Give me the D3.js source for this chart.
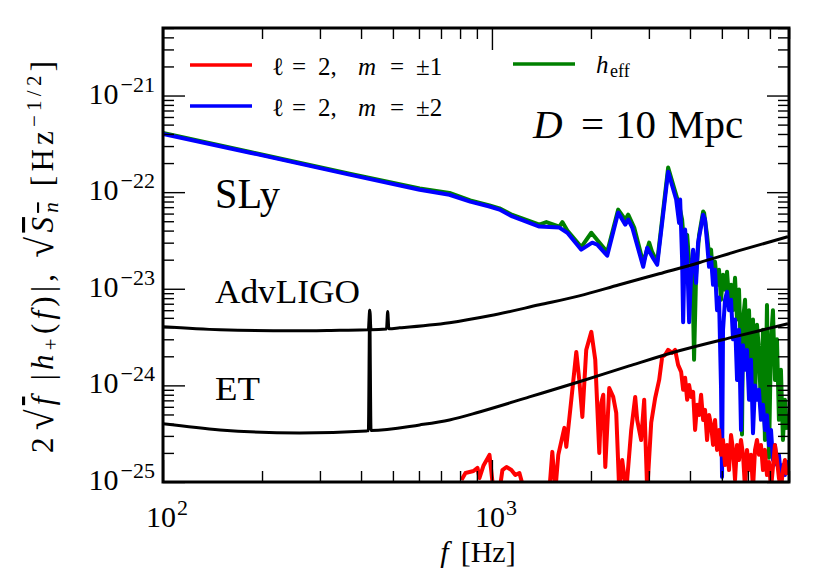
<!DOCTYPE html>
<html>
<head>
<meta charset="utf-8">
<script src="https://cdn.jsdelivr.net/npm/d3@7"></script>
<style>
  body { margin: 0; background: #fff; }
  text { font-family: "Liberation Serif", "DejaVu Serif", serif; fill: #000; }
</style>
</head>
<body>
<div id="chart"></div>
<script>
// h_eff (green) as [f in Hz, amplitude]
const heffData = [
  [100,4.1e-22],[184,2.6e-22],[369,1.55e-22],[603,1.09e-22],[743,9.8e-23],[859,8.2e-23],[983,7.3e-23],
  [1054,6.8e-23],[1154,5.8e-23],[1394,4.6e-23],[1464,4.9e-23],[1603,4.4e-23],[1637,4.9e-23],[1695,4.0e-23],
  [1869,2.7e-23],[2005,3.8e-23],[2090,3.2e-23],[2241,2.4e-23],[2420,6.6e-23],[2543,5.2e-23],[2596,5.85e-23],
  [2707,4.3e-23],[2883,1.86e-23],[3006,3.0e-23],[3070,2.4e-23],[3180,1.9e-23],[3433,1.8e-22],[3580,1.1e-22],
  [3707,7.4e-23],[3786,5.2e-23],[3840,2.86e-23],[3922,3.6e-23],[3976,1.9e-23],[4060,2.0e-23],[4116,1.84e-24],
  [4175,1.4e-23],[4263,3.6e-23],[4385,6.3e-23],[4415,6.1e-23],[4508,3.6e-23],[4571,2.25e-23],[4636,2.54e-23],
  [4701,1.4e-23],[4767,1.9e-23],[4834,1.1e-23],[4902,1.57e-23],[4971,7.7e-24],[5041,1.4e-23],[5113,9.8e-24],
  [5184,1.5e-23],[5257,7.7e-24],[5332,1.1e-23],[5407,6.0e-24],[5483,1.3e-23],[5561,4.8e-24],[5638,9.8e-24],
  [5717,1.84e-24],[5757,3.1e-25],[5800,4.8e-24],[5881,7.7e-24],[5962,1.45e-24],[6047,6.0e-24],[6132,1.14e-24],
  [6218,4.8e-24],[6306,7.1e-25],[6394,4.24e-24],[6482,2.33e-24],[6575,5.6e-25],[6668,3.76e-24],[6761,2.72e-25],
  [6857,6.8e-24],[6954,1.78e-25],[7053,3.0e-24],[7150,6.0e-24],[7251,1.14e-24],[7354,3.0e-24],[7456,4.4e-25],
  [7561,1.45e-24],[7668,2.72e-25],[7775,7.1e-25],[7884,3.46e-25]
];

// l=2, m=+-2 (blue)
const m2Data = [
  [100,4.0e-22],[184,2.56e-22],[369,1.52e-22],[603,1.06e-22],[743,9.4e-23],[859,7.97e-23],[983,7.1e-23],
  [1054,6.6e-23],[1154,5.6e-23],[1394,4.4e-23],[1603,4.3e-23],[1695,3.8e-23],[1869,2.54e-23],[2018,3.0e-23],
  [2090,2.86e-23],[2241,2.2e-23],[2420,6.14e-23],[2543,4.61e-23],[2596,5.2e-23],[2670,4.3e-23],[2883,1.69e-23],
  [2965,2.66e-23],[3070,2.15e-23],[3180,1.77e-23],[3433,1.63e-22],[3580,9.9e-23],[3631,8.4e-23],[3707,4.8e-23],
  [3734,8.4e-23],[3786,2.0e-23],[3813,4.5e-24],[3866,4.1e-23],[3922,2.15e-23],[3976,4.5e-24],[4033,1.47e-23],
  [4089,2.54e-23],[4175,1.15e-23],[4233,3.0e-23],[4323,4.4e-23],[4385,5.85e-23],[4445,5.2e-23],[4508,3.0e-23],
  [4571,1.69e-23],[4636,2.1e-23],[4701,1.1e-23],[4767,1.57e-23],[4834,6.0e-24],[4902,8.1e-24],[4971,9.6e-25],
  [5006,1.13e-25],[5041,3.76e-24],[5113,7.7e-24],[5184,9.3e-24],[5257,6.0e-24],[5332,7.7e-24],[5407,3.0e-24],
  [5483,4.8e-24],[5561,1.14e-24],[5638,3.76e-24],[5717,3.46e-25],[5800,2.6e-24],[5881,1.45e-24],[5962,2.33e-24],
  [6047,7.1e-25],[6132,1.84e-24],[6218,3.2e-25],[6306,1.0e-24],[6394,7.1e-25],[6482,9.0e-25],[6575,4.4e-25],
  [6668,6.3e-25],[6761,3.46e-25],[6857,4.9e-25],[6954,2.4e-25],[7053,3.46e-25],[7150,1.69e-25],[7251,2.4e-25],
  [7354,1.5e-25],[7456,1.91e-25],[7561,1.1e-25],[7668,1.5e-25],[7775,1.18e-25],[7884,1.69e-25]
];

// l=2, m=+-1 (red); values under 1e-25 fall below the frame
const m1Data = [
  [808,1.05e-25],[831,1.24e-25],[879,1.3e-25],[904,1.4e-25],[916,1.1e-25],[942,1.47e-25],[983,1.91e-25],
  [1011,8e-26],[1054,8e-26],[1076,1.33e-25],[1107,1.43e-25],[1146,1.33e-25],[1178,1.18e-25],[1212,1.24e-25],
  [1255,8e-26],[1494,8e-26],[1526,2.05e-25],[1558,8e-26],[1591,1.91e-25],[1660,3.63e-25],[1683,2.31e-25],
  [1743,7.1e-25],[1805,2.22e-24],[1843,1.14e-24],[1883,4.72e-25],[1935,2.33e-24],[2005,3.58e-24],[2061,1.84e-24],
  [2120,2.0e-25],[2150,6.6e-25],[2180,8.0e-25],[2211,1.43e-25],[2273,9.4e-25],[2337,7.6e-25],[2387,5.2e-25],
  [2438,8e-26],[2489,1.69e-25],[2560,8e-26],[2651,3.46e-25],[2726,7.6e-25],[2764,4.4e-25],[2842,2.72e-25],
  [2903,7.1e-25],[2965,8e-26],[3049,4.1e-25],[3135,7.4e-25],[3224,1.14e-24],[3292,1.97e-24],[3363,2.07e-24],
  [3433,2.33e-24],[3530,2.17e-24],[3605,2.33e-24],[3681,1.63e-24],[3760,1.38e-24],[3813,9.0e-25],[3866,1.2e-24],
  [3922,7.1e-25],[3976,1.01e-24],[4033,7.6e-25],[4089,8.57e-25],[4146,3.46e-25],[4205,6.3e-25],[4263,4.94e-25],
  [4323,8.0e-25],[4385,4.39e-25],[4445,5.58e-25],[4508,2.72e-25],[4571,4.94e-25],[4636,3.9e-25],[4701,2.42e-25],
  [4767,4.39e-25],[4834,2.15e-25],[4902,3.46e-25],[4971,1.91e-25],[5041,2.72e-25],[5113,1.5e-25],[5184,2.42e-25],
  [5257,1.33e-25],[5332,3.07e-25],[5407,2.15e-25],[5483,1.05e-25],[5561,2.42e-25],[5638,1.69e-25],[5717,2.72e-25],
  [5800,1.91e-25],[5881,8.5e-26],[5962,2.15e-25],[6047,1.33e-25],[6132,1.91e-25],[6218,8.5e-26],[6306,2.15e-25],
  [6394,2.72e-25],[6482,1.91e-25],[6575,2.42e-25],[6668,1.33e-25],[6761,2.15e-25],[6857,1.18e-25],[6954,1.61e-25],
  [7053,8.5e-26],[7251,2.42e-25],[7354,1.69e-25],[7456,1.1e-25],[7561,8.5e-26],[7668,1.33e-25],[7775,1.69e-25],
  [7884,1.18e-25]
];

// detector noise curves sqrt(S_n)
const advLigoData = [
  [100,4.04e-24],[149,3.76e-24],[248,3.67e-24],[344,3.72e-24],[421,3.76e-24],[425,6.0e-24],[429,3.77e-24],
  [478,3.84e-24],[482,5.8e-24],[486,3.86e-24],[524,3.94e-24],[743,4.45e-24],[983,5.25e-24],[1394,6.82e-24],
  [1843,8.45e-24],[2438,1.1e-23],[3224,1.43e-23],[4263,1.86e-23],[5638,2.48e-23],[7940,3.46e-23]
];
const etData = [
  [100,4.0e-25],[149,3.46e-25],[260,3.22e-25],[416,3.38e-25],[421,3.39e-25],[425,6.0e-24],[429,3.41e-25],
  [603,3.9e-25],[743,4.39e-25],[916,5.31e-25],[1300,7.6e-25],[1843,1.09e-24],[2615,1.59e-24],[3707,2.28e-24],
  [5445,3.18e-24],[7940,4.34e-24]
];

const xMajorTicks = [100, 1000];
const xTickExps = ["2", "3"];
const yMajorTicks = [1e-25, 1e-24, 1e-23, 1e-22, 1e-21];
const yTickExps = ["\u221225", "\u221224", "\u221223", "\u221222", "\u221221"];

var margin = {top: 28, right: 41, bottom: 99, left: 163},
    width = 830 - margin.left - margin.right,
    height = 581 - margin.top - margin.bottom;

var svg = d3.select("#chart")
    .append("svg")
    .attr("width", width + margin.left + margin.right)
    .attr("height", height + margin.top + margin.bottom)
    .append("g")
    .attr("transform", "translate(" + margin.left + "," + margin.top + ")");

var x = d3.scaleLog().domain([100, 8000]).range([0, width]);
var y = d3.scaleLog().domain([1e-25, 5e-21]).range([height, 0]);

svg.append("clipPath").attr("id", "plotclip")
    .append("rect").attr("width", width).attr("height", height);

var line = d3.line()
    .x(function(d) { return x(d[0]); })
    .y(function(d) { return y(d[1]); });
var smoothLine = d3.line()
    .curve(d3.curveMonotoneX)
    .x(function(d) { return x(d[0]); })
    .y(function(d) { return y(d[1]); });

var curves = svg.append("g").attr("clip-path", "url(#plotclip)");

function drawCurve(data, color, w, gen) {
    curves.append("path")
        .datum(data)
        .attr("fill", "none")
        .attr("stroke", color)
        .attr("stroke-width", w)
        .attr("stroke-linejoin", "round")
        .attr("d", gen);
}
drawCurve(heffData, "#008000", 4, line);
drawCurve(m2Data, "#0000ff", 4, line);
drawCurve(m1Data, "#ff0000", 4, line);
drawCurve(advLigoData, "#000", 3, smoothLine);
drawCurve(etData, "#000", 3, smoothLine);

// ticks on all four sides, pointing inward
var isMajor = function(v) { return Math.abs(Math.log10(v) - Math.round(Math.log10(v))) < 1e-9; };
var xMinor = x.ticks().filter(function(v) { return !isMajor(v); });
var yMinor = y.ticks().filter(function(v) { return !isMajor(v); });

function ticks(axis, vals, size, tr) {
    svg.append("g")
        .attr("transform", tr)
        .call(axis.tickValues(vals).tickSize(size).tickFormat(""))
        .call(function(g) { g.select(".domain").remove(); })
        .call(function(g) { g.selectAll(".tick line").attr("stroke", "#000").attr("stroke-width", 1.4); });
}
ticks(d3.axisBottom(x), xMajorTicks, -22, "translate(0," + height + ")");
ticks(d3.axisBottom(x), xMinor, -11, "translate(0," + height + ")");
ticks(d3.axisTop(x), xMajorTicks, -22, "translate(0,0)");
ticks(d3.axisTop(x), xMinor, -11, "translate(0,0)");
ticks(d3.axisLeft(y), yMajorTicks, -22, "translate(0,0)");
ticks(d3.axisLeft(y), yMinor, -11, "translate(0,0)");
ticks(d3.axisRight(y), yMajorTicks, -22, "translate(" + width + ",0)");
ticks(d3.axisRight(y), yMinor, -11, "translate(" + width + ",0)");

svg.append("rect")
    .attr("width", width).attr("height", height)
    .attr("fill", "none").attr("stroke", "#000").attr("stroke-width", 3);

// tick labels
yMajorTicks.forEach(function(v, i) {
    var t = svg.append("text")
        .attr("x", -8).attr("y", y(v) + 8)
        .attr("text-anchor", "end")
        .style("font-size", "30px");
    t.append("tspan").text("10");
    t.append("tspan").attr("dx", 2).attr("dy", -12).style("font-size", "22px").text(yTickExps[i]);
});
xMajorTicks.forEach(function(v, i) {
    var t = svg.append("text")
        .attr("x", x(v) + 4).attr("y", height + 45)
        .attr("text-anchor", "middle")
        .style("font-size", "30px");
    t.append("tspan").text("10");
    t.append("tspan").attr("dx", 1).attr("dy", -12).style("font-size", "22px").text(xTickExps[i]);
});

// axis labels
var xl = svg.append("text")
    .attr("x", width / 2 + 2).attr("y", height + 80)
    .attr("text-anchor", "middle")
    .style("font-size", "30px");
xl.append("tspan").style("font-style", "italic").text("f");
xl.append("tspan").attr("dx", 12).text("[Hz]");

var yl = svg.append("text")
    .attr("transform", "translate(" + (53 - margin.left) + "," + (height / 2 + 2) + ") rotate(-90)")
    .attr("text-anchor", "middle")
    .style("font-size", "31px")
    .style("white-space", "pre")
    .attr("textLength", 392).attr("lengthAdjust", "spacing");
yl.append("tspan").text("2");
yl.append("tspan").attr("dx", 3).style("font-size", "38px").text("\u221A");
yl.append("tspan").style("font-style", "italic").style("text-decoration", "overline").text("f");
yl.append("tspan").text(" |");
yl.append("tspan").style("font-style", "italic").text("h");
yl.append("tspan").attr("dy", 5).style("font-size", "21px").text("+");
yl.append("tspan").attr("dy", -5).text("(");
yl.append("tspan").style("font-style", "italic").text("f");
yl.append("tspan").text(")|, ");
yl.append("tspan").style("font-size", "38px").text("\u221A");
yl.append("tspan").style("font-style", "italic").style("text-decoration", "overline").text("S");
yl.append("tspan").attr("dy", 5).style("font-size", "21px").style("font-style", "italic").style("text-decoration", "overline").text("n");
yl.append("tspan").attr("dy", -5).text(" [Hz");
yl.append("tspan").attr("dy", -12).style("font-size", "21px").text("\u22121/2");
yl.append("tspan").attr("dy", 12).text("]");

// legend (no frame), glyphs placed like the LaTeX layout
var legend = svg.append("g").attr("transform", "translate(" + (-margin.left) + "," + (-margin.top) + ")");
function legendLine(x0, y0, color) {
    legend.append("line")
        .attr("x1", x0).attr("x2", x0 + 62)
        .attr("y1", y0).attr("y2", y0)
        .attr("stroke", color).attr("stroke-width", 3.5);
}
legendLine(190, 65, "#ff0000");
legendLine(190, 106, "#0000ff");
legendLine(513, 64, "#008000");

function legendText(y0, mval) {
    var t = legend.append("text").attr("y", y0).style("font-size", "25px");
    t.append("tspan").attr("x", 272).text("\u2113");
    t.append("tspan").attr("x", 292).text("=");
    t.append("tspan").attr("x", 318).text("2,");
    t.append("tspan").attr("x", 358).style("font-style", "italic").text("m");
    t.append("tspan").attr("x", 390).text("=");
    t.append("tspan").attr("x", 416).text(mval);
}
legendText(75, "\u00B11");
legendText(116, "\u00B12");
var he = legend.append("text").attr("y", 73).style("font-size", "25px");
he.append("tspan").attr("x", 596).style("font-style", "italic").text("h");
he.append("tspan").attr("x", 610).attr("dy", 4).style("font-size", "18px").text("eff");

// annotations
var dt = legend.append("text").attr("y", 138).style("font-size", "41px");
dt.append("tspan").attr("x", 533).style("font-style", "italic").text("D");
dt.append("tspan").attr("x", 581).text("=");
dt.append("tspan").attr("x", 615).text("10");
dt.append("tspan").attr("x", 668).text("Mpc");

legend.append("text").attr("x", 215).attr("y", 208)
    .style("font-size", "42px").attr("textLength", 65).attr("lengthAdjust", "spacingAndGlyphs").text("SLy");
legend.append("text").attr("x", 215).attr("y", 303)
    .style("font-size", "33px").attr("textLength", 145).attr("lengthAdjust", "spacingAndGlyphs").text("AdvLIGO");
legend.append("text").attr("x", 215).attr("y", 400)
    .style("font-size", "33px").attr("textLength", 45).attr("lengthAdjust", "spacingAndGlyphs").text("ET");
</script>
</body>
</html>
